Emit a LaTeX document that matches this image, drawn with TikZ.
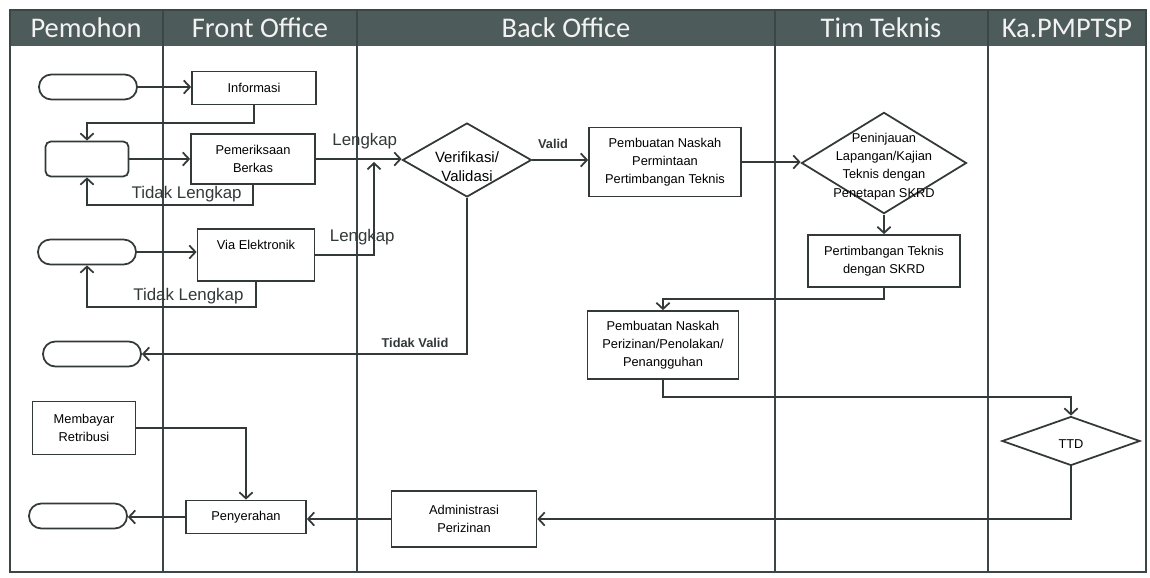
\documentclass[tikz,border=0pt]{standalone}
\usepackage{fontspec}
\setmainfont{Liberation Sans}
\newfontfamily\headfam{Carlito}
\usepackage{tikz}
\usetikzlibrary{arrows.meta,positioning,shapes.geometric,calc}
\definecolor{lanehead}{HTML}{4E5B5B}
\definecolor{lanetext}{HTML}{F2F2F2}
\definecolor{laneline}{HTML}{3B4646}
\definecolor{ink}{HTML}{333838}
\newcommand{\boxfont}{\fontsize{7.3}{10.4}\selectfont}
\newcommand{\flowfont}{\fontsize{9.6}{11}\selectfont}
\newcommand{\dtext}[2][-2pt]{\smash{\raisebox{#1}{\begin{tabular}{@{}c@{}}#2\end{tabular}}}}
\tikzset{
  procbox/.style={
    rectangle, draw=ink, line width=1pt, fill=white,
    font=\boxfont, align=center, inner sep=2pt
  },
  startbox/.style={
    rectangle, rounded corners=7pt, draw=ink, line width=1pt, fill=white,
    minimum width=1.96cm, minimum height=0.5cm
  },
  decbox/.style={
    diamond, draw=ink, line width=1pt, fill=white,
    inner sep=0pt, font=\boxfont
  },
  flowarrow/.style={
    -{Straight Barb[length=3.5pt,width=7.5pt]}, line width=1pt, draw=ink
  },
  flowlabel/.style={font=\flowfont, text=ink, inner sep=1pt},
  checklabel/.style={font=\boxfont\bfseries, text=ink, inner sep=1pt},
  lanetitle/.style={font=\headfam\fontsize{16.2}{18}\selectfont, text=lanetext},
  lanerule/.style={draw=laneline, line width=1.6pt},
}

\begin{document}
\begin{tikzpicture}[x=0.02cm, y=-0.02cm]
  \useasboundingbox (0,0) rectangle (1150,578);
  \fill[lanehead] (10,10) rectangle (1146,46);
  \draw[lanerule] (10,10) rectangle (1146,572);
  \foreach \x in {163,357,775,988}
    \draw[lanerule] (\x,10) -- (\x,572);
  \node[lanetitle] (hPemohon) at (86,28) {Pemohon};
  \node[lanetitle] (hFront) at (260,28) {Front Office};
  \node[lanetitle] (hBack) at (566,28) {Back Office};
  \node[lanetitle] (hTim) at (881,28) {Tim Teknis};
  \node[lanetitle] (hKa) at (1067,28) {Ka.PMPTSP};

  \node[startbox] (t1) at (88,87) {};
  \node[startbox, minimum width=1.66cm, minimum height=0.7cm, rounded corners=3pt] (t2) at (87,159) {};
  \node[startbox] (t3) at (87,252) {};
  \node[startbox] (t4) at (92,354) {};
  \node[startbox] (t5) at (78,516) {};
  \node[procbox, minimum width=2.06cm, minimum height=1.06cm] (bayar) at (84,428) {Membayar\\Retribusi};

  \node[procbox, minimum width=2.48cm, minimum height=0.66cm] (info) at (254,88) {Informasi};
  \node[procbox, minimum width=2.48cm, minimum height=1.0cm] (cek) at (253,159) {Pemeriksaan\\Berkas};
  \node[procbox, minimum width=2.34cm, minimum height=1.04cm, text depth=11pt] (via) at (256,255) {Via Elektronik};
  \node[procbox, minimum width=2.4cm, minimum height=0.66cm] (serah) at (246,517) {Penyerahan};

  \node[decbox, minimum width=2.58cm, minimum height=1.48cm, font=\fontsize{8.5}{10.8}\selectfont] (verif) at (467,160) {\dtext[-6.5pt]{Verifikasi/\\Validasi}};
  \node[procbox, minimum width=3.04cm, minimum height=1.38cm] (naskahPT) at (665,162) {Pembuatan Naskah\\Permintaan\\Pertimbangan Teknis};
  \node[procbox, minimum width=3.02cm, minimum height=1.36cm] (naskahIzin) at (663,345) {Pembuatan Naskah\\Perizinan/Penolakan/\\Penangguhan};
  \node[procbox, minimum width=2.9cm, minimum height=1.12cm] (admin) at (464,519) {Administrasi\\Perizinan};

  \node[decbox, minimum width=3.3cm, minimum height=1.84cm] (tinjau) at (884,163) {\dtext[-3.5pt]{Peninjauan\\Lapangan/Kajian\\Teknis dengan\\Penetapan SKRD}};
  \node[procbox, minimum width=3.04cm, minimum height=1.04cm] (pertek) at (884,261) {Pertimbangan Teknis\\dengan SKRD};

  \node[decbox, minimum width=2.76cm, minimum height=0.98cm] (ttd) at (1071,441) {\dtext[-4pt]{TTD}};

  \coordinate (j1) at (87,123);
  \coordinate (j2) at (87,205);
  \coordinate (j3) at (87,307);
  \coordinate (lk) at (374,162);
  \coordinate (j5) at (663,299);
  \coordinate (j6) at (1071,397);

  \draw[flowarrow] (t1.east) -- (t1.east -| info.west);
  \draw[flowarrow] (info.south) |- (j1) -- (t2.north);
  \draw[flowarrow] (t2.east) -- (t2.east -| cek.west);
  \draw[flowarrow] (cek.south) |- node[flowlabel, pos=0.7, above] (lbTidak1) {Tidak Lengkap} (j2) -- (t2.south);
  \draw[flowarrow] (cek.east) -- node[flowlabel, pos=0.57, above=4pt] (lbLengkap1) {Lengkap} (cek.east -| verif.west);
  \draw[flowarrow] (t3.east) -- (t3.east -| via.west);
  \draw[flowarrow] (via.south) |- node[flowlabel, pos=0.7, above] (lbTidak2) {Tidak Lengkap} (j3) -- (t3.south);
  \draw[flowarrow] (via.east) -| node[flowlabel, pos=0.4, above=4pt] (lbLengkap2) {Lengkap} (lk);
  \draw[flowarrow] (verif.east) -- node[checklabel, pos=0.37, above=5pt] (lbValid) {Valid} (verif.east -| naskahPT.west);
  \draw[flowarrow] (verif.south) |- node[checklabel, pos=0.58, above=2pt] (lbTidakValid) {Tidak Valid} (t4.east);
  \draw[flowarrow] (naskahPT.east) -- (naskahPT.east -| tinjau.west);
  \draw[flowarrow] (tinjau.south) -- (pertek.north);
  \draw[flowarrow] (pertek.south) |- (j5) -- (naskahIzin.north);
  \draw[flowarrow] (naskahIzin.south) |- (j6) -- (ttd.north);
  \draw[flowarrow] (ttd.south) |- (admin.east);
  \draw[flowarrow] (admin.west) -- (admin.west -| serah.east);
  \draw[flowarrow] (serah.west) -- (serah.west -| t5.east);
  \draw[flowarrow] (bayar.east) -| (serah.north);
\end{tikzpicture}
\end{document}
